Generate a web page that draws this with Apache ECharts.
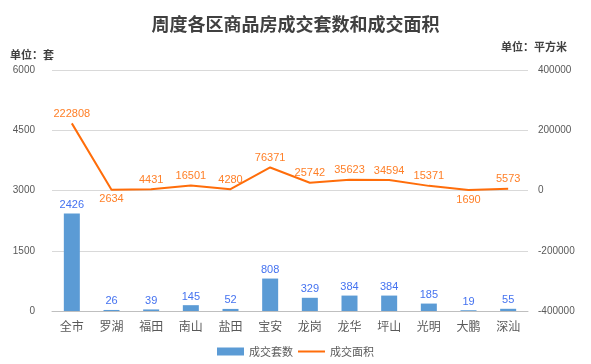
<!DOCTYPE html>
<html><head><meta charset="utf-8">
<script src="https://cdn.jsdelivr.net/npm/echarts@6/dist/echarts.min.js"></script>
<style>html,body{margin:0;padding:0;background:#fff}#c{width:591px;height:364px}</style>
</head><body><div id="c"></div>
<script>
const categories = ['全市','罗湖','福田','南山','盐田','宝安','龙岗','龙华','坪山','光明','大鹏','深汕'];
const units = [2426,26,39,145,52,808,329,384,384,185,19,55];
const areas = [222808,2634,4431,16501,4280,76371,25742,35623,34594,15371,1690,5573];
const belowLabels = ['罗湖','大鹏'];
const leftTicks = {min:0,max:6000,interval:1500};
const rightTicks = {min:-400000,max:400000,interval:200000};

const chart = echarts.init(document.getElementById('c'));
const fontNum = 'Liberation Sans, Arial, sans-serif';
const fontCJK = '"Noto Sans CJK SC", sans-serif';
chart.setOption({
  animation:false,
  title:{text:'周度各区商品房成交套数和成交面积',left:'center',top:10,
    textStyle:{fontFamily:fontCJK,fontSize:18,fontWeight:'bold',color:'#404040'}},
  graphic:[
    {type:'text',left:10,top:49,style:{text:'单位：套',font:'bold 11px "Noto Sans CJK SC"',fill:'#404040'}},
    {type:'text',right:24,top:41,style:{text:'单位：平方米',font:'bold 11px "Noto Sans CJK SC"',fill:'#404040'}}
  ],
  legend:{bottom:2,left:'center',itemWidth:27,itemHeight:8,itemGap:4,
    textStyle:{fontFamily:fontCJK,fontSize:11,color:'#595959'},
    data:[{name:'成交套数',icon:'rect'},{name:'成交面积',itemStyle:{opacity:0}}]},
  grid:{left:52,right:63,top:70,bottom:53},
  xAxis:{type:'category',data:categories,
    axisLine:{lineStyle:{color:'#BFBFBF'}},axisTick:{show:false},
    axisLabel:{fontFamily:fontCJK,fontSize:12,color:'#595959',margin:9}},
  yAxis:[
    {type:'value',min:leftTicks.min,max:leftTicks.max,interval:leftTicks.interval,
     axisLine:{show:false},axisTick:{show:false},
     axisLabel:{fontFamily:fontNum,fontSize:10,color:'#595959',margin:17,formatter:v=>String(v)},
     splitLine:{lineStyle:{color:'#D9D9D9',width:1}}},
    {type:'value',min:rightTicks.min,max:rightTicks.max,interval:rightTicks.interval,
     axisLine:{show:false},axisTick:{show:false},
     axisLabel:{fontFamily:fontNum,fontSize:10,color:'#595959',margin:10,formatter:v=>String(v)},
     splitLine:{show:false}}
  ],
  series:[
    {name:'成交套数',type:'bar',data:units,barWidth:16,yAxisIndex:0,
     itemStyle:{color:'#5B9BD5'},
     label:{show:true,position:'top',distance:3,fontFamily:fontNum,fontSize:11,color:'#4472F0'}},
    {name:'成交面积',type:'line',yAxisIndex:1,symbol:'circle',symbolSize:0.1,showSymbol:true,
     lineStyle:{color:'#FF6D0A',width:2},itemStyle:{color:'#FF6D0A'},
     data:areas.map((v,i)=>({value:v,label:{position:belowLabels.includes(categories[i])?'bottom':'top'}})),
     label:{show:true,distance:4,fontFamily:fontNum,fontSize:11,color:'#FF7F27'}}
  ]
});
</script></body></html>
